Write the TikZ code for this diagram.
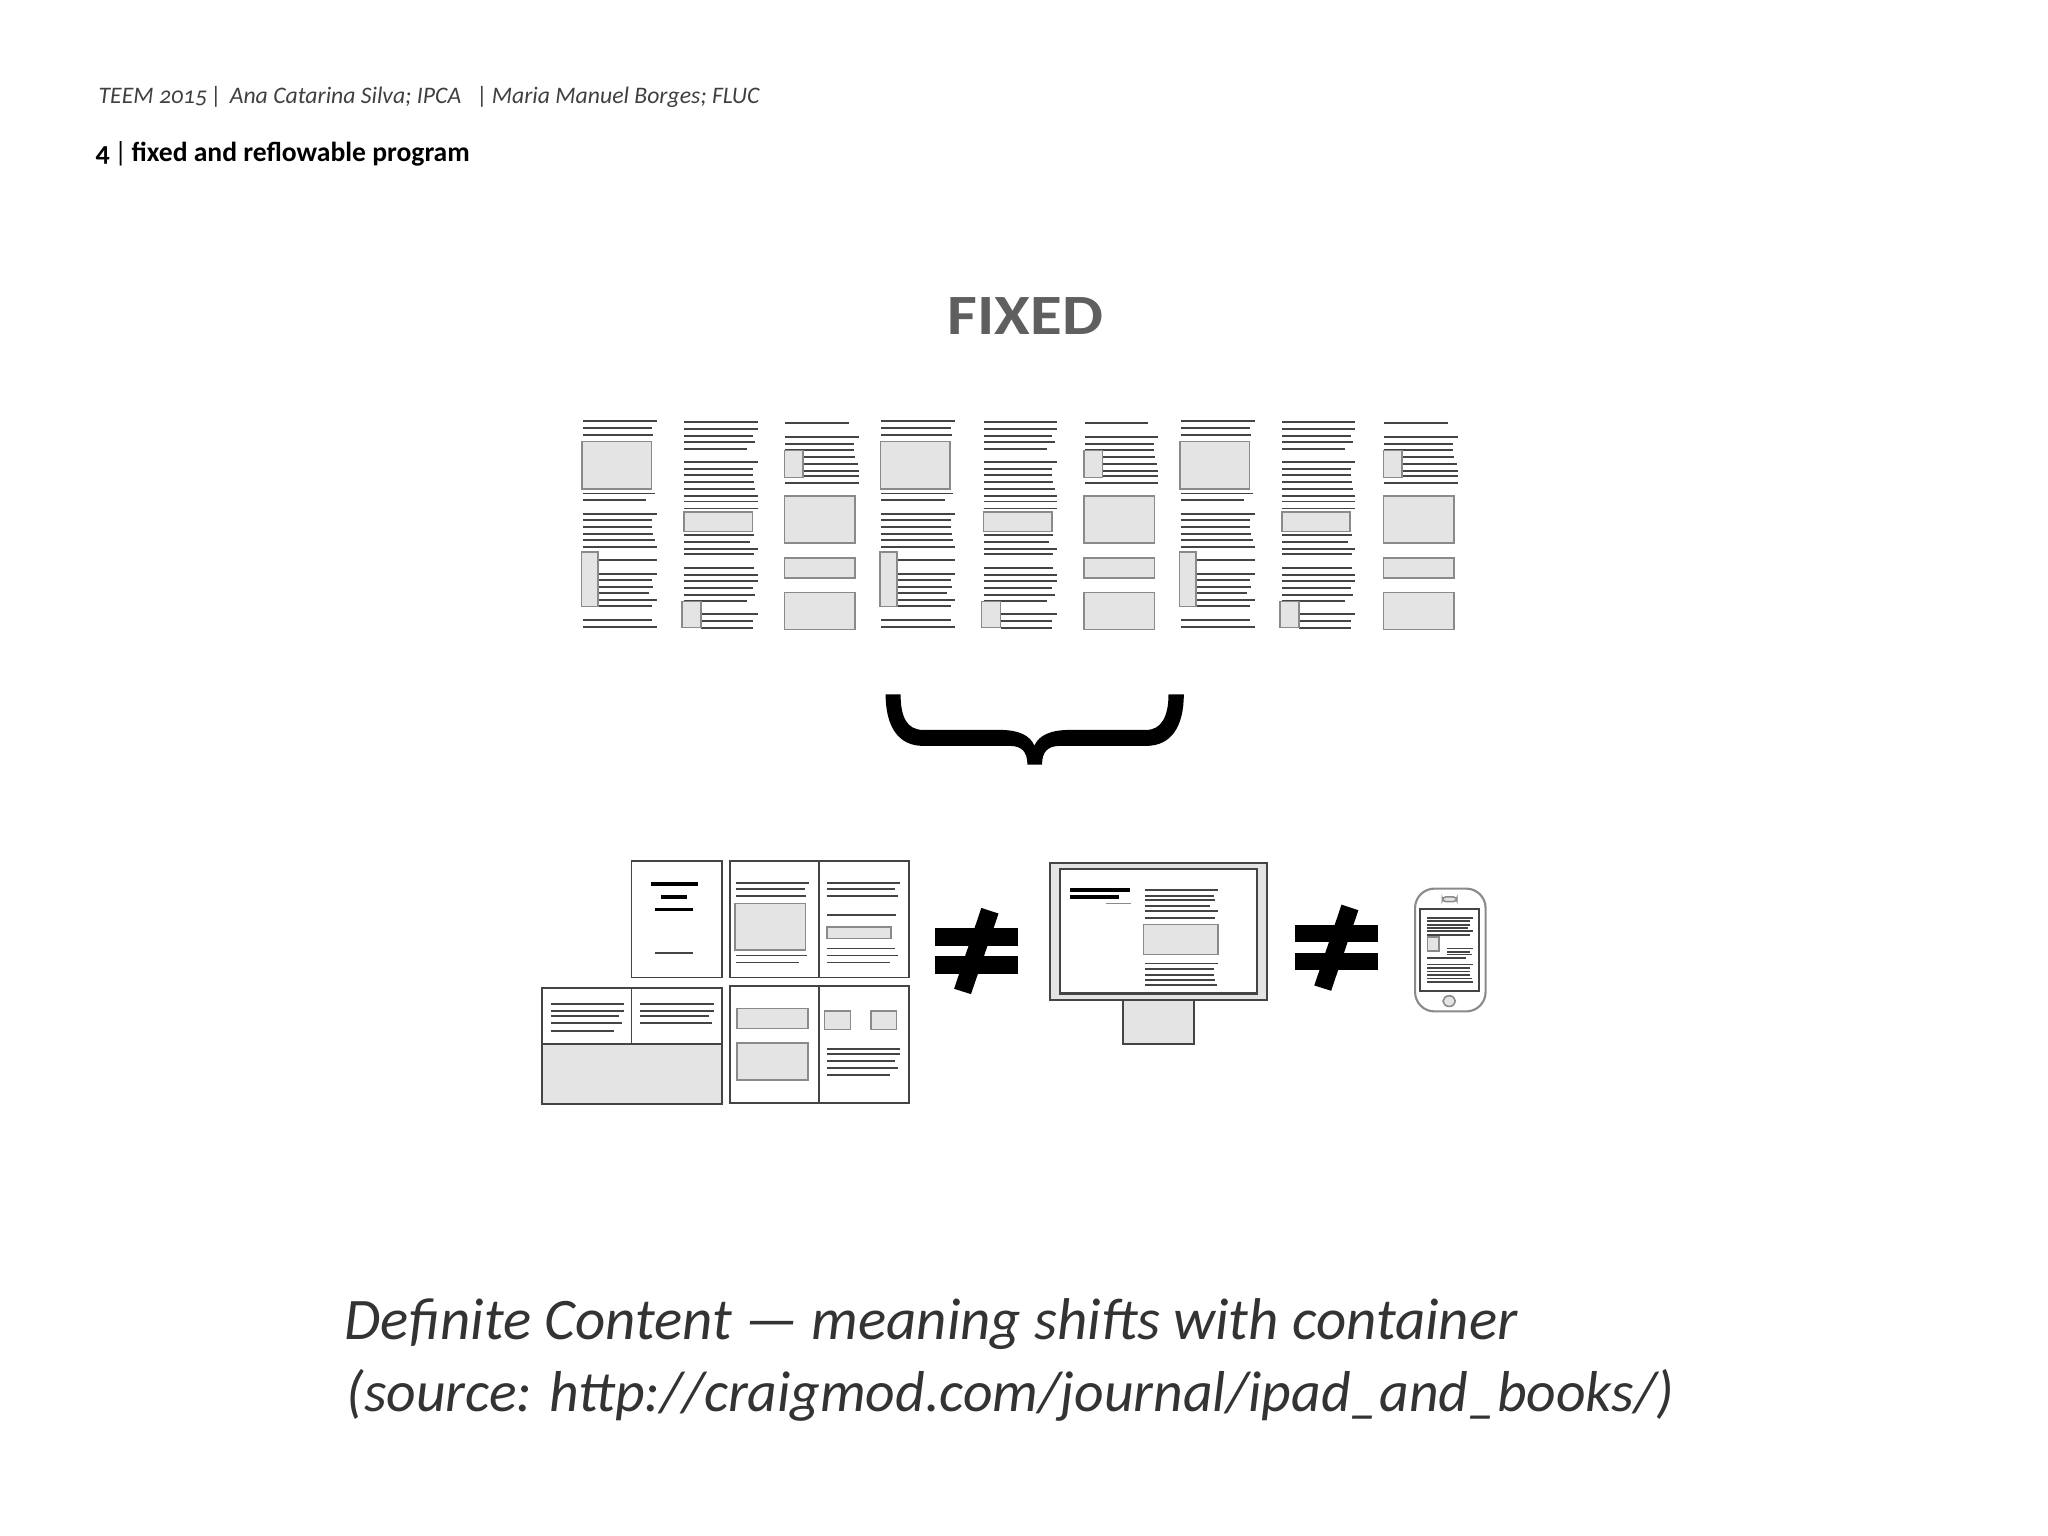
\documentclass[tikz,border=0pt]{standalone}
\usepackage{fontspec}
\setmainfont[Numbers=OldStyle]{Carlito}
\definecolor{boxgrey}{HTML}{E4E4E4}
\definecolor{boxedge}{HTML}{8A8A8A}
\definecolor{inkgrey}{HTML}{444444}
\definecolor{titlegrey}{HTML}{5F5F5F}
\tikzset{
  crop/.style={x=0.003333cm,y=-0.003333cm},
  widecrop/.style={x=0.003827cm,y=-0.003333cm},
  txt/.style={draw=inkgrey,line width=0.55pt},
  heavy/.style={draw=black,line width=0.95pt},
  box/.style={draw=boxedge,fill=boxgrey,line width=0.45pt},
  frame/.style={draw=inkgrey,line width=0.55pt},
  label/.style={anchor=base west,inner sep=0pt},
}

\begin{document}
\begin{tikzpicture}[x=0.01cm,y=-0.01cm]
   \useasboundingbox (0,0) rectangle (2048,1536);
   \draw (98,103) node[label,font=\fontsize{6.74pt}{8pt}\itshape,text=black!75] (header)
      {TEEM 2015\,|\,\,Ana Catarina Silva; IPCA\,\,\,\,|\,Maria Manuel Borges; FLUC};
   \draw (95,161) node[label,font=\fontsize{7.85pt}{9pt}\bfseries] (subtitle)
      {4\,{\mdseries|}\,fixed and reflowable program};
   \draw (947,334) node[label,font=\fontsize{16.2pt}{18pt}\bfseries\addfontfeatures{FakeStretch=1.14},text=titlegrey] (fixed) {FIXED};
   \draw (344,1339) node[label,font=\fontsize{16.75pt}{20pt}\itshape,text=black!80] (content)
      {Definite Content — meaning shifts with container};
   \draw (346,1411) node[label,font=\fontsize{16.4pt}{20pt}\itshape,text=black!80] (source)
      {(source: http://craigmod.com/journal/ipad\_and\_books/)};

   % strip of pages
   \foreach \dx in {0,298.7,598} {
   \begin{scope}[shift={(560+\dx,400)},crop]
      \foreach \y/\e in {63/290,84/276,104/280,281/284,301/259,343/290,360/276,381/276,402/280,422/284,443/290,661/276,682/290}
         \draw[txt] (68,\y) -- (\e,\y);
      \foreach \y/\e in {481/290,522/290,540/276,561/280,581/266,602/290,619/276}
         \draw[txt] (115,\y) -- (\e,\y);
      \filldraw[box] (66,125) rectangle (275,268);
      \filldraw[box] (64,457) rectangle (115,620);
   \end{scope}
   }
   \foreach \dx in {0,299.4,597.8} {
   \begin{scope}[shift={(560+\dx,400)},crop]
      \foreach \y/\e in {66/594,87/594,108/580,125/587,146/563,187/594,208/580,226/580,246/583,267/587,288/594,305/594,326/594,405/583,426/570,447/594,464/583,505/583,526/594,543/594,564/580,585/587,605/563}
         \draw[txt] (373,\y) -- (\e,\y);
      \foreach \y/\e in {644/594,665/580,686/580}
         \draw[txt] (424,\y) -- (\e,\y);
      \filldraw[box] (373,336) rectangle (578,395);
      \filldraw[box] (367,605) rectangle (424,683);
   \end{scope}
   }
   \foreach \dx in {0,299.6,599} {
   \begin{scope}[shift={(560+\dx,400)},crop]
      \foreach \y/\e in {70/867,112/898,132/884,150/884,250/898}
         \draw[txt] (677,\y) -- (\e,\y);
      \foreach \y/\e in {170/887,191/894,212/898,229/898}
         \draw[txt] (730,\y) -- (\e,\y);
      \filldraw[box] (675,152) rectangle (730,233);
      \filldraw[box] (674,288) rectangle (886,430);
      \filldraw[box] (674,474) rectangle (886,534);
      \filldraw[box] (674,578) rectangle (886,689);
   \end{scope}
   }

   % brace
   \begin{scope}[shift={(860,680)},crop]
      \fill[black] (77,43) -- (122,43) .. controls (122,110) and (140,150) .. (190,150) -- (420,150)
         .. controls (475,150) and (510,165) .. (524,197) .. controls (538,165) and (575,150) .. (630,150)
         -- (860,150) .. controls (905,150) and (927,110) .. (927,43) -- (973,43)
         .. controls (973,140) and (935,198) .. (860,198) -- (600,198) .. controls (565,198) and (547,215) .. (547,254)
         -- (503,254) .. controls (503,215) and (485,198) .. (450,198) -- (190,198)
         .. controls (115,198) and (77,140) .. (77,43) -- cycle;
   \end{scope}

   % book pages
   \begin{scope}[shift={(530,850)},crop]
      \draw[frame] (305,34) rectangle (576,383);
      \draw[heavy] (363,102) -- (504,102);
      \draw[heavy] (394,141) -- (473,141);
      \draw[heavy] (376,179) -- (491,179);
      \draw[txt] (376,310) -- (491,310);
      \draw[frame] (600,34) rectangle (1139,383);
      \draw[frame] (869,34) -- (869,383);
      \foreach \y/\e in {99/838,117/826,137/829,317/832,338/808}
         \draw[txt] (618,\y) -- (\e,\y);
      \filldraw[box] (616,161) rectangle (828,300);
      \foreach \y/\e in {99/1112,117/1098,137/1105,196/1101,296/1098,317/1105,338/1081}
         \draw[txt] (891,\y) -- (\e,\y);
      \filldraw[box] (892,231) rectangle (1084,266);
      \filldraw[draw=inkgrey,fill=boxgrey,line width=0.55pt] (36,583) rectangle (576,764);
      \draw[frame] (36,414) rectangle (576,583);
      \draw[frame] (305,414) -- (305,583);
      \foreach \y/\e in {462/283,483/283,500/266,521/276,545/252}
         \draw[txt] (62,\y) -- (\e,\y);
      \foreach \y/\e in {462/552,483/552,500/539,521/546}
         \draw[txt] (331,\y) -- (\e,\y);
      \draw[frame] (600,410) rectangle (1139,760);
      \draw[frame] (869,410) -- (869,760);
      \filldraw[box] (622,476) rectangle (835,536);
      \filldraw[box] (622,580) rectangle (835,691);
      \filldraw[box] (885,483) rectangle (963,539);
      \filldraw[box] (1024,483) rectangle (1101,539);
      \foreach \y/\e in {597/1112,614/1112,635/1098,656/1105,677/1081}
         \draw[txt] (891,\y) -- (\e,\y);
   \end{scope}

   % screen, phone and the two signs
   \begin{scope}[shift={(920,850)},widecrop]
      \fill[black] (40,235) rectangle (256,288);
      \fill[black] (40,319) rectangle (256,372);
      \fill[black] (160,174) -- (205,191) -- (133,433) -- (89,417) -- cycle;
      \fill[black] (979,225) rectangle (1195,277);
      \fill[black] (979,309) rectangle (1195,362);
      \fill[black] (1100,164) -- (1144,181) -- (1073,423) -- (1029,407) -- cycle;

      \filldraw[draw=inkgrey,fill=boxgrey,line width=0.5pt] (529,452) rectangle (716,583);
      \filldraw[draw=inkgrey,fill=boxgrey,line width=0.55pt] (339,40) rectangle (906,452);
      \filldraw[draw=inkgrey,fill=white,line width=0.6pt] (366,58) rectangle (879,431);
      \draw[heavy] (392,120) -- (549,120);
      \draw[heavy] (392,141) -- (518,141);
      \draw[draw=boxedge,line width=0.5pt] (486,161) -- (551,161);
      \foreach \y/\e in {119/778,137/766,151/769,168/757,182/778,203/769,341/778,358/766,376/766,390/769,407/775}
         \draw[txt] (587,\y) -- (\e,\y);
      \filldraw[box] (583,224) rectangle (777,314);

      \draw[draw=boxedge,fill=white,line width=0.6pt,rounded corners=5.5pt] (1292,116) rectangle (1476,485);
      \draw[frame] (1305,178) rectangle (1460,425);
      \filldraw[box,rounded corners=1pt] (1363,141) rectangle (1401,155);
      \filldraw[box] (1381,454) circle (16);
      \foreach \y/\e in {203/1443,214/1436,224/1436,234/1429,244/1443,255/1436,324/1426,344/1443,355/1436,365/1436,376/1436,386/1440,397/1443}
         \draw[txt] (1323,\y) -- (\e,\y);
      \foreach \y/\e in {296/1443,306/1436,314/1440}
         \draw[txt] (1374,\y) -- (\e,\y);
      \filldraw[box] (1324,262) rectangle (1354,304);
   \end{scope}
\end{tikzpicture}
\end{document}
